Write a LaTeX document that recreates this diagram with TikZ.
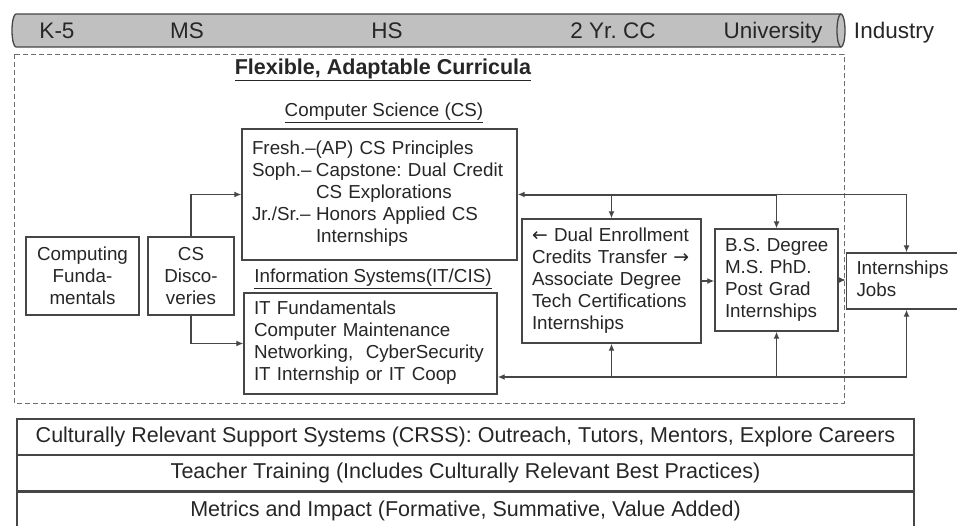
\documentclass[tikz,border=0pt]{standalone}
\usepackage{fontspec}
\setmainfont{Liberation Sans}
\newfontfamily\arrowfont{DejaVu Sans}
\usepackage{tikz}
\frenchspacing
\definecolor{ink}{RGB}{38,38,38}
\definecolor{boxline}{RGB}{70,70,70}
\definecolor{bar}{RGB}{192,192,192}
\definecolor{dashline}{RGB}{110,110,110}
\usetikzlibrary{arrows.meta,positioning}
\newcommand*{\boxfont}{\fontsize{18.8}{22}\selectfont}
\newcommand*{\barfont}{\fontsize{22.5}{26}\selectfont}
\newcommand*{\bandfont}{\fontsize{21.5}{25}\selectfont}
\newcommand*{\hang}[1]{\makebox[64pt][l]{#1}}
\newcommand*{\lines}[1]{\begin{tabular}{@{}l@{}}#1\end{tabular}}
\tikzset{%
  box/.style={draw=boxline, line width=1.4pt, rectangle, inner sep=0pt, text=ink, font=\boxfont},
  leftbox/.style={box, align=left, inner xsep=10pt},% box with left aligned lines
  midbox/.style={box, align=center},% box with centred lines
  band/.style={draw=boxline, line width=1.3pt, minimum width=897pt, inner sep=0pt, text=ink, font=\bandfont},% support rows at the bottom
  stage/.style={text=ink, font=\barfont, inner sep=0pt, anchor=base},% labels on the bar
  heading/.style={text=ink, font=\boxfont, inner sep=0pt},
  flow/.style={draw=boxline, line width=1.3pt, ->},
  heavy/.style={draw=boxline, line width=2pt}
}
\begin{document}
\begin{tikzpicture}[x=1pt, y=-1pt, >={Latex[length=7pt,width=6pt]}]
\useasboundingbox (0,0) rectangle (957,525);

% education stages bar
\draw[draw=boxline, line width=1.3pt, fill=bar] (841,14) -- (16,14)
  arc[start angle=270, end angle=90, x radius=4, y radius=16.5] -- (841,47);
\draw[draw=boxline, line width=1.3pt, fill=bar] (841,30.5) ellipse[x radius=4, y radius=16.5];
\node[stage] (k5) at (57,38.5) {K-5};
\node[stage] (ms) at (187,38.5) {MS};
\node[stage] (hs) at (387,38.5) {HS};
\node[stage] (cc) at (613,38.5) {2 Yr. CC};
\node[stage] (uni) at (773,38.5) {University};
\node[stage] (industry) at (894,38.5) {Industry};

% curricula frame
\draw[dashline, line width=1pt, dash pattern=on 5pt off 3pt] (14,54) rectangle (844,403);
\node[heading, font=\fontsize{21.5}{25}\selectfont\bfseries] (title) at (383,70) {\underline{Flexible, Adaptable Curricula}};
\node[heading] (cshead) at (384,113) {\underline{Computer Science (CS)}};
\node[heading] (ishead) at (373,279) {\underline{Information Systems(IT/CIS)}};

\node[midbox, minimum width=113pt, minimum height=78pt] (cf) at (82.5,276) {Computing\\Funda-\\mentals};
\node[midbox, minimum width=86pt, minimum height=78pt] (csd) at (191,276) {CS\\Disco-\\veries};
\node[leftbox, minimum height=131pt, text width=255pt] (cs) at (379.5,194.5)
  {\lines{Fresh.–(AP) CS Principles\\\hang{Soph.–}Capstone: Dual Credit\\\hang{}CS Explorations\\\hang{Jr./Sr.–}Honors Applied CS\\\hang{}Internships}};
\node[leftbox, minimum height=101pt, text width=233pt] (is) at (370.5,343.5)
  {\lines{IT Fundamentals\\Computer Maintenance\\Networking,~ CyberSecurity\\IT Internship or IT Coop}};
\node[leftbox, minimum height=124pt, text width=159pt] (de) at (611.5,281)
  {\lines{{\arrowfont ←} Dual Enrollment\\Credits Transfer {\arrowfont →}\\Associate Degree\\Tech Certifications\\Internships}};
\node[leftbox, minimum height=102pt, text width=103pt] (bs) at (776.5,280)
  {\lines{B.S. Degree\\M.S. PhD.\\Post Grad\\Internships}};
\node[leftbox, minimum height=56pt, text width=100pt] (ind) at (906.5,281)
  {\lines{Internships\\Jobs}};

\draw[flow] (csd.north) |- (cs.west);
\draw[flow] (csd.south) |- (is.west);
\draw[flow] (de.east) -- (de.east -| bs.west);
\draw[flow] (bs.east) -- (bs.east -| ind.west);

% return paths over and under the boxes
\coordinate (up) at (ind.north |- cs.east);
\coordinate (low) at (906.5,377);
\draw[heavy, ->] (bs.north |- cs.east) -- (cs.east);
\draw[flow, -] (up) -- (bs.north |- cs.east);
\draw[flow] (up) -- (ind.north);
\draw[flow] (de.north |- cs.east) -- (de.north);
\draw[flow] (bs.north |- cs.east) -- (bs.north);
\draw[heavy, ->] (bs.south |- low) -- (low -| is.east);
\draw[flow, -] (low) -- (bs.south |- low);
\draw[flow] (low) -- (ind.south);
\draw[flow] (de.south |- low) -- (de.south);
\draw[flow] (bs.south |- low) -- (bs.south);

% support rows
\node[band, minimum height=36pt] (crss) at (465.5,437) {Culturally Relevant Support Systems (CRSS): Outreach, Tutors, Mentors, Explore Careers};
\node[band, minimum height=36pt] (teach) at (465.5,473) {Teacher Training (Includes Culturally Relevant Best Practices)};
\node[band, minimum height=40pt] (metric) at (465.5,511) {Metrics and Impact (Formative, Summative, Value Added)};
\draw[heavy] (teach.south west) -- (teach.south east);
\end{tikzpicture}
\end{document}
